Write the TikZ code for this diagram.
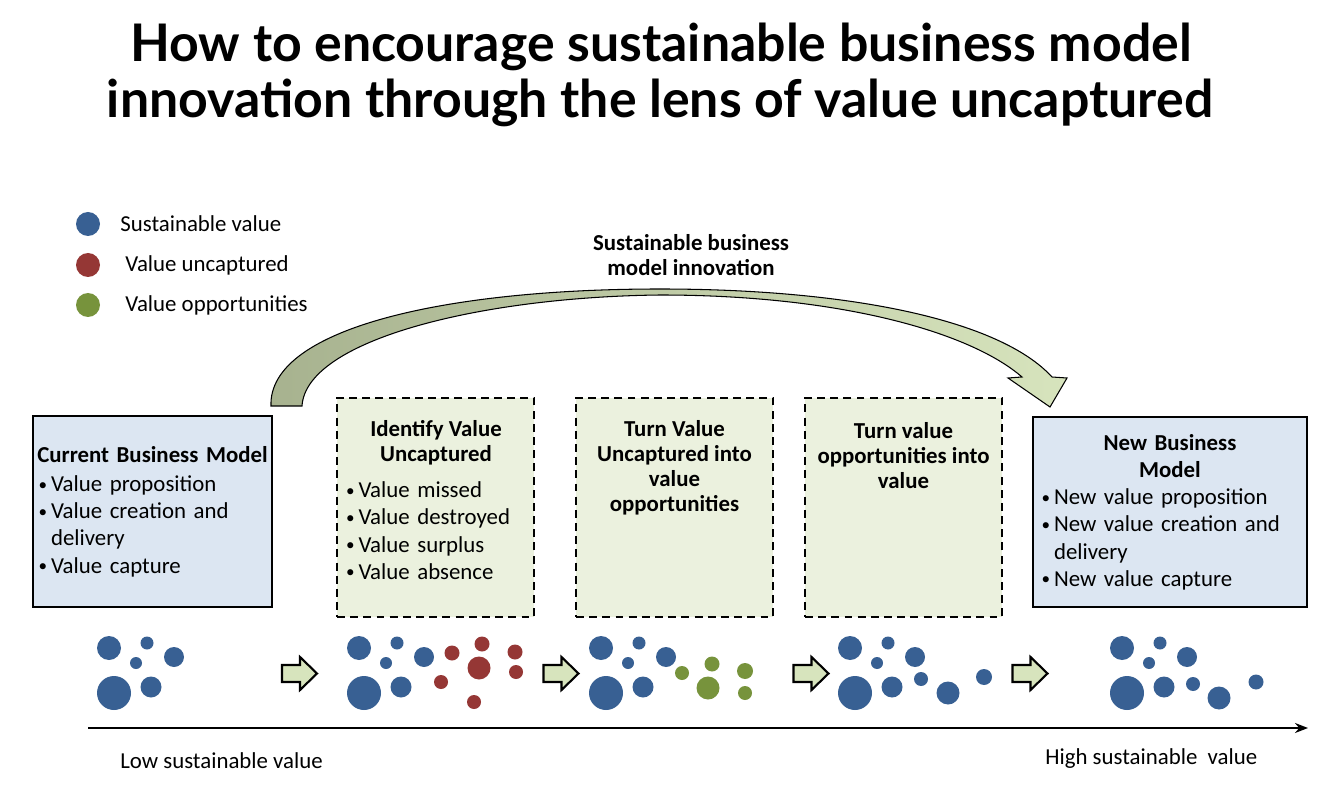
\documentclass[tikz,border=0pt]{standalone}
\usepackage{fontspec}
\setmainfont{Carlito}
\newfontfamily\titlefont{Lato}
\usetikzlibrary{positioning,arrows.meta}

\definecolor{valblue}{HTML}{386093}
\definecolor{valred}{HTML}{953735}
\definecolor{valgreen}{HTML}{77933C}
\definecolor{bmblue}{HTML}{DCE6F2}
\definecolor{stepgreen}{HTML}{EBF1DE}
\definecolor{arrowgreen}{HTML}{D7E4BD}
\definecolor{arcdark}{HTML}{A7B28F}

\newcommand{\bitem}{\par\hangindent=0.28cm\hangafter=1\noindent
  \makebox[0.28cm][l]{\hspace{0.03cm}\raisebox{0.12ex}{\scalebox{0.75}{\textbullet}}}}

\tikzset{
  bmbox/.style={draw=black, line width=1.2pt, fill=bmblue, inner sep=0pt},
  stepbox/.style={draw=black, line width=1.2pt, dash pattern=on 4.5pt off 3pt, fill=stepgreen,
    minimum width=3.94cm, minimum height=4.38cm, inner sep=0pt},
  boxtext/.style={inner sep=0pt, font=\fontsize{13}{15.5}\selectfont},
  steptitle/.style={inner sep=0pt, align=center, font=\fontsize{13}{14.2}\selectfont\bfseries},
  legendtext/.style={inner sep=0pt, anchor=west, font=\fontsize{13}{15}\selectfont},
  flowarrow/.pic={
    \filldraw[fill=arrowgreen, line width=1.2pt, line join=miter]
      (-17.5,-8.5) -- (0.5,-8.5) -- (0.5,-16.5) -- (17.5,0) -- (0.5,16.5) -- (0.5,8.5) -- (-17.5,8.5) -- cycle;
  }
}

\begin{document}
\begin{tikzpicture}[x=0.02cm, y=-0.02cm]
  \useasboundingbox (0,0) rectangle (1334,793);

  % Titel
  \node[inner sep=0pt, anchor=base, font=\titlefont\fontsize{29.5}{33}\selectfont\bfseries]
    (title1) at (661,62) {How to encourage sustainable business model};
  \node[inner sep=0pt, anchor=base, font=\titlefont\fontsize{29.5}{33}\selectfont\bfseries]
    (title2) at (660,118) {innovation through the lens of value uncaptured};

  % Legende
  \fill[valblue] (88,224) circle (12);
  \fill[valred] (88,265) circle (12);
  \fill[valgreen] (88,305) circle (12);
  \node[legendtext] (leg1) at (120,224) {Sustainable value};
  \node[legendtext] (leg2) at (125,265) {Value uncaptured};
  \node[legendtext] (leg3) at (125,305) {Value opportunities};

  % grosser gebogener Pfeil
  \shadedraw[left color=arcdark, right color=arrowgreen, draw=black, line width=0.6pt]
    (271,406) .. controls (268,330) and (440,289) .. (660,289)
    .. controls (850,289) and (1000,320) .. (1052,377)
    -- (1067,378) -- (1050,407) -- (1008,378) -- (1022,377)
    .. controls (970,332) and (840,295) .. (660,295)
    .. controls (480,297) and (306,340) .. (302,406) -- cycle;
  \node[steptitle] (sbmi) at (691,255) {Sustainable business\\model innovation};

  % Geschaeftsmodelle
  \node[bmbox, minimum width=4.78cm, minimum height=3.82cm] (current) at (152.5,511.5) {};
  \node[boxtext, text width=4.62cm] (currenttext) at (current.center) {\raggedright
    {\centering\bfseries Current Business Model\par}\vspace{1pt}
    \bitem Value proposition
    \bitem Value creation and\newline delivery
    \bitem Value capture\par};

  \node[bmbox, minimum width=5.48cm, minimum height=3.8cm] (new) at (1170,512) {};
  \node[boxtext, text width=5.2cm] (newtext) at (new.center) {\raggedright
    {\centering\bfseries New Business\par Model\par}
    \bitem New value proposition
    \bitem New value creation and\newline delivery
    \bitem New value capture\par};

  % Schritte
  \node[stepbox] (step1) at (435.5,507.5) {};
  \node[stepbox] (step2) at (674.5,507.5) {};
  \node[stepbox] (step3) at (903.5,507.5) {};
  \node[steptitle, anchor=north] (step1title) at (436,420) {Identify Value\\Uncaptured};
  \node[boxtext, text width=3.7cm, anchor=north] (step1text) at (437,470) {\raggedright
    \bitem Value missed
    \bitem Value destroyed
    \bitem Value surplus
    \bitem Value absence\par};
  \node[steptitle, anchor=north] (step2title) at (674.5,420) {Turn Value\\Uncaptured into\\value\\opportunities};
  \node[steptitle, anchor=north] (step3title) at (903.5,422) {Turn value\\opportunities into\\value};

  % Punktwolken
  \foreach \dx in {0,250,492,741,1013} {
    \foreach \x/\y/\r in {109/648/12, 147/643/6.5, 136/663/6, 174/657/10, 114/693/17, 151/687/10.5}
      \fill[valblue] (\x+\dx,\y) circle (\r);
  }
  \foreach \x/\y/\r in {452/653/7.5, 482/644/7.5, 515/652/7.5, 479/668/11.5, 516/672/7, 441/682/7, 474/702/7}
    \fill[valred] (\x,\y) circle (\r);
  \foreach \x/\y/\r in {682/673/7, 712/664/7.5, 745/671/8, 708/688/11.5, 745/693/7}
    \fill[valgreen] (\x,\y) circle (\r);
  \foreach \x/\y/\r in {921/679/7, 948/693/11.5, 984/677/8, 1193/684/7, 1219/698/11.5, 1256/682/7.5}
    \fill[valblue] (\x,\y) circle (\r);

  % kleine Pfeile
  \foreach \x in {299.5,561,811,1030}
    \pic at (\x,673.5) {flowarrow};

  % Achse
  \coordinate (low) at (88,728);
  \coordinate (high) at (1308,728);
  \draw[line width=1.1pt, -{Stealth[length=0.26cm, width=0.2cm]}] (low) -- (high);
  \node[legendtext] (lowlabel) at (120,761) {Low sustainable value};
  \node[legendtext] (highlabel) at (1045,759) {High sustainable\ \ value};
\end{tikzpicture}
\end{document}
